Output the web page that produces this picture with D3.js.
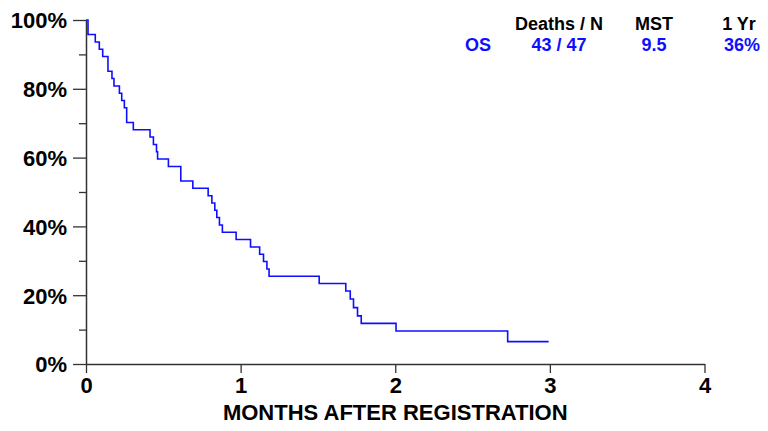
<!DOCTYPE html>
<html>
<head>
<meta charset="utf-8">
<script src="https://cdn.jsdelivr.net/npm/d3@7"></script>
<style>
    body { margin: 0; background: #fff; }
    svg text { font-family: "Liberation Sans", Arial, sans-serif; font-weight: bold; }
</style>
</head>
<body>
<div id="chart"></div>
<script>
// step points (months, % surviving)
const months = [0, 0.013, 0.060, 0.086, 0.108, 0.142, 0.168, 0.181, 0.216, 0.231, 0.248, 0.263, 0.306,
    0.414, 0.436, 0.456, 0.463, 0.533, 0.613, 0.691, 0.790, 0.814, 0.833, 0.846, 0.863, 0.882, 0.971,
    1.064, 1.123, 1.148, 1.170, 1.184, 1.508, 1.680, 1.709, 1.730, 1.756, 1.780, 2.005, 2.727, 2.992];
const survival = [100, 95.8, 93.6, 91.5, 89.4, 85.1, 83.0, 80.8, 78.7, 76.6, 74.5, 70.2, 68.1,
    66.0, 63.8, 61.7, 59.6, 57.4, 53.2, 51.1, 48.9, 46.8, 44.7, 42.6, 40.4, 38.3, 36.2,
    34.0, 31.9, 29.8, 27.6, 25.5, 23.4, 21.2, 18.9, 16.4, 14.0, 11.8, 9.6, 6.5, 6.5];

const xTicks = [0, 1, 2, 3, 4];
const yMajorTicks = [0, 20, 40, 60, 80, 100];
const yMinorTicks = [10, 30, 50, 70, 90];

const legendHeaders = ['Deaths / N', 'MST', '1 Yr'];
const legendLabel = 'OS';
const legendValues = ['43 / 47', '9.5', '36%'];

const width = 768;
const height = 431;
const blue = '#0f0fff';

const svg = d3.select('#chart').append('svg')
    .attr('width', width)
    .attr('height', height);

const x = d3.scaleLinear().domain([0, 4]).range([86, 704.5]);
const y = d3.scaleLinear().domain([0, 100]).range([364, 20]);

//y axis with major + minor ticks
svg.append('g')
    .attr('transform', `translate(${x(0)},0)`)
    .call(d3.axisLeft(y).tickValues(yMinorTicks).tickSize(7).tickFormat(''))
    .call(g => g.select('.domain').remove())
    .selectAll('line').attr('stroke', '#333').attr('stroke-width', 1.3);

const yAxis = svg.append('g')
    .attr('transform', `translate(${x(0)},0)`)
    .call(d3.axisLeft(y).tickValues(yMajorTicks).tickSize(13).tickSizeOuter(0).tickPadding(6)
        .tickFormat(d => d + '%'));
yAxis.select('.domain').attr('stroke', '#333').attr('stroke-width', 1.5);
yAxis.selectAll('line').attr('stroke', '#333').attr('stroke-width', 1.3);
yAxis.selectAll('text')
    .attr('font-size', 22)
    .attr('fill', '#000')
    .attr('dy', '0.36em');

//x axis
const xAxis = svg.append('g')
    .attr('transform', `translate(0,${y(0)})`)
    .call(d3.axisBottom(x).tickValues(xTicks).tickSize(9).tickSizeOuter(0).tickPadding(4)
        .tickFormat(d3.format('d')));
xAxis.select('.domain').attr('stroke', '#333').attr('stroke-width', 1.5);
xAxis.selectAll('line').attr('stroke', '#333').attr('stroke-width', 1.3);
xAxis.selectAll('text')
    .attr('font-size', 22)
    .attr('fill', '#000')
    .attr('dy', '0.71em');

svg.append('text')
    .attr('x', (x(0) + x(4)) / 2)
    .attr('y', 420)
    .attr('text-anchor', 'middle')
    .attr('font-size', 22)
    .text('MONTHS AFTER REGISTRATION');

//survival curve
const points = months.map((m, i) => [m, survival[i]]);
const line = d3.line()
    .x(d => x(d[0]))
    .y(d => y(d[1]))
    .curve(d3.curveStepAfter);

svg.append('path')
    .datum(points)
    .attr('fill', 'none')
    .attr('stroke', blue)
    .attr('stroke-width', 1.6)
    .attr('d', line);

//legend table
const colX = [559, 654, 739];

svg.selectAll('.legend-head')
    .data(legendHeaders)
    .join('text')
    .attr('class', 'legend-head')
    .attr('x', (d, i) => colX[i])
    .attr('y', 30)
    .attr('text-anchor', 'middle')
    .attr('font-size', 18)
    .attr('fill', '#000')
    .text(d => d);

svg.append('text')
    .attr('x', 478)
    .attr('y', 51)
    .attr('text-anchor', 'middle')
    .attr('font-size', 18)
    .attr('fill', blue)
    .text(legendLabel);

svg.selectAll('.legend-val')
    .data(legendValues)
    .join('text')
    .attr('class', 'legend-val')
    .attr('x', (d, i) => colX[i] + (i === 2 ? 3 : 0))
    .attr('y', 51)
    .attr('text-anchor', 'middle')
    .attr('font-size', 18)
    .attr('fill', blue)
    .text(d => d);
</script>
</body>
</html>
